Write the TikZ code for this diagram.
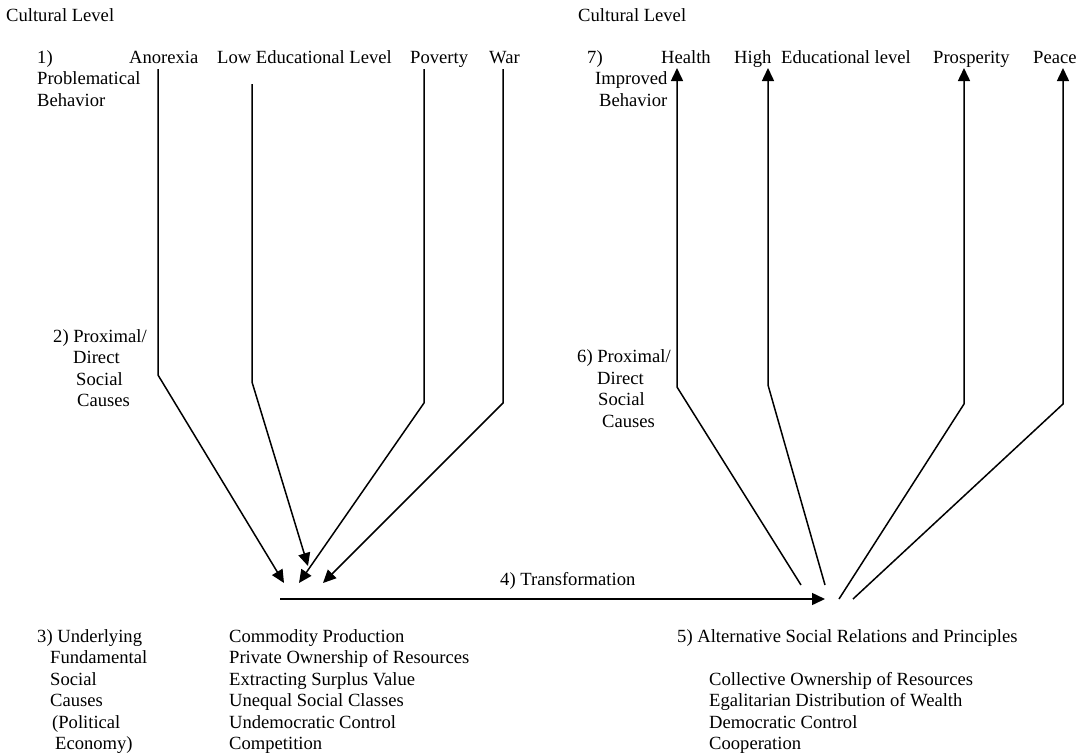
\documentclass[tikz,border=0pt]{standalone}
\usepackage{fontspec}
\setmainfont{Liberation Serif}
\usetikzlibrary{arrows.meta}
\begin{document}
\begin{tikzpicture}[x=1pt,y=-1pt,
  txt/.style={anchor=base west,inner sep=0pt,font=\fontsize{18.6}{21.5}\selectfont},
  conn/.style={line width=1.5pt,line join=miter},
  arr/.style={conn,-{Triangle[length=13pt,width=12pt]}}]
\useasboundingbox (0,0) rectangle (1090,755);
% ---------- left texts
\node[txt] (cl1) at (6,21) {Cultural Level};
\node[txt] (n1) at (37,63) {1)};
\node[txt] (n1b) at (37,84.5) {Problematical};
\node[txt] (n1c) at (37,106) {Behavior};
\node[txt] (an) at (129,63) {Anorexia};
\node[txt] (le) at (217,63) {Low Educational Level};
\node[txt] (po) at (410,63) {Poverty};
\node[txt] (wa) at (489,63) {War};
\node[txt] (p2a) at (53,342) {2) Proximal/};
\node[txt] (p2b) at (73,363.5) {Direct};
\node[txt] (p2c) at (76,385) {Social};
\node[txt] (p2d) at (77,406.5) {Causes};
\node[txt] (u3a) at (37,642) {3) Underlying};
\node[txt] (u3b) at (50,663.5) {Fundamental};
\node[txt] (u3c) at (50,685) {Social};
\node[txt] (u3d) at (50,706.5) {Causes};
\node[txt] (u3e) at (52,728) {(Political};
\node[txt] (u3f) at (55,749.5) {Economy)};
\node[txt] (c1) at (229,642) {Commodity Production};
\node[txt] (c2) at (229,663.5) {Private Ownership of Resources};
\node[txt] (c3) at (229,685) {Extracting Surplus Value};
\node[txt] (c4) at (229,706.5) {Unequal Social Classes};
\node[txt] (c5) at (229,728) {Undemocratic Control};
\node[txt] (c6) at (229,749.5) {Competition};
\node[txt] (tr) at (500,585) {4) Transformation};
% ---------- right texts
\node[txt] (cl2) at (578,21) {Cultural Level};
\node[txt] (n7) at (587,63) {7)};
\node[txt] (n7b) at (595,84.5) {Improved};
\node[txt] (n7c) at (599,106) {Behavior};
\node[txt] (he) at (661,63) {Health};
\node[txt] (hi) at (734,63) {High};
\node[txt] (ed) at (781,63) {Educational level};
\node[txt] (pr) at (933,63) {Prosperity};
\node[txt] (pe) at (1033,63) {Peace};
\node[txt] (p6a) at (577,362.5) {6) Proximal/};
\node[txt] (p6b) at (597,384) {Direct};
\node[txt] (p6c) at (598,405.5) {Social};
\node[txt] (p6d) at (602,427) {Causes};
\node[txt] (a5) at (677,642) {5) Alternative Social Relations and Principles};
\node[txt] (r1) at (709,685) {Collective Ownership of Resources};
\node[txt] (r2) at (709,706.5) {Egalitarian Distribution of Wealth};
\node[txt] (r3) at (709,728) {Democratic Control};
\node[txt] (r4) at (709,749.5) {Cooperation};
% ---------- coordinates
\coordinate (aT) at (158,69);  \coordinate (aB) at (158,375); \coordinate (aE) at (284,583);
\coordinate (lT) at (252,84);  \coordinate (lB) at (252,382); \coordinate (lE) at (308,566);
\coordinate (pT) at (424,69);  \coordinate (pB) at (424,403); \coordinate (pE) at (299,583);
\coordinate (wT) at (503,69);  \coordinate (wB) at (503,403); \coordinate (wE) at (323,583);
\coordinate (tS) at (280,599); \coordinate (tE) at (825,599);
\coordinate (hS) at (801,585); \coordinate (hB) at (677,387); \coordinate (hT) at (677,68);
\coordinate (iS) at (825,585); \coordinate (iB) at (768,385); \coordinate (iT) at (768,68);
\coordinate (sS) at (839,599); \coordinate (sB) at (964,404); \coordinate (sT) at (964,68);
\coordinate (eS) at (853,599); \coordinate (eB) at (1063,404); \coordinate (eT) at (1063,68);
% ---------- connectors
\draw[arr] (aT) -- (aB) -- (aE);
\draw[arr] (lT) -- (lB) -- (lE);
\draw[arr] (pT) -- (pB) -- (pE);
\draw[arr] (wT) -- (wB) -- (wE);
\draw[arr] (tS) -- (tE);
\draw[arr] (hS) -- (hB) -- (hT);
\draw[arr] (iS) -- (iB) -- (iT);
\draw[arr] (sS) -- (sB) -- (sT);
\draw[arr] (eS) -- (eB) -- (eT);
\end{tikzpicture}
\end{document}
